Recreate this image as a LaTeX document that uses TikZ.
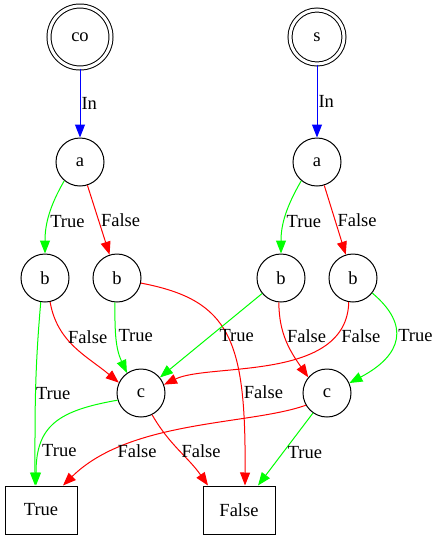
\documentclass[tikz,border=0pt]{standalone}
\usepackage{fontspec}
\setmainfont{Liberation Serif}
\usetikzlibrary{arrows.meta}

\begin{document}
\begin{tikzpicture}[x=1pt, y=1pt,
    font=\fontsize{18.5}{22}\selectfont,
    state/.style={circle, draw, line width=1pt, minimum size=48pt, inner sep=0pt},
    root/.style={state, double, double distance=3pt},
    leaf/.style={rectangle, draw, line width=1pt, minimum width=72pt, minimum height=48pt},
    edge/.style={line width=1pt, -{Triangle[length=13pt, width=10pt]}},
    lbl/.style={inner sep=2pt, text=black},
    yes/.style={edge, green},
    no/.style={edge, red},
    into/.style={edge, blue}]

    \useasboundingbox (0,0) rectangle (439,-539);

    % roots
    \node[root, minimum size=62pt] (co) at (80,-37) {co};
    \node[root, minimum size=54pt] (s) at (317,-37) {s};
    % inner states
    \foreach \name/\x/\y/\txt in {aL/80/162/a, aR/317/162/a,
        bA/45/278/b, bB/117/278/b, bC/281/278/b, bD/353/278/b,
        cL/141/393/c, cR/327/393/c} {
        \node[state] (\name) at (\x,-\y) {\txt};}
    % leaves
    \node[leaf] (T) at (41,-510) {True};
    \node[leaf] (F) at (239,-510) {False};

    % root edges
    \draw[into] (co) -- (aL) node[lbl, pos=0.5, right, inner sep=1pt] {In};
    \draw[into] (s) -- (aR) node[lbl, pos=0.5, right, inner sep=1pt] {In};
    % a -> b
    \draw[yes] (aL.-130) to[out=-120, in=90] node[lbl, pos=0.58, right] {True} (bA.north);
    \draw[no] (aL) -- (bB) node[lbl, pos=0.5, right] {False};
    \draw[yes] (aR.-130) to[out=-120, in=90] node[lbl, pos=0.58, right] {True} (bC.north);
    \draw[no] (aR) -- (bD) node[lbl, pos=0.5, right] {False};
    % b -> c and leaves
    \draw[yes] (bA.-100) to[out=-95, in=90] node[lbl, pos=0.5, right, inner sep=0pt] {True} ([xshift=-6pt]T.north);
    \draw[no] (bA.-78) to[out=-80, in=140] node[lbl, pos=0.36, right] {False} (cL.155);
    \draw[yes] (bB.-95) to[out=-90, in=115] node[lbl, pos=0.45, right] {True} (cL.125);
    \draw[no] (bB.-12) .. controls +(89.5,-17) and +(1,146) .. ([xshift=6pt]F.north) node[lbl, pos=0.74, right] {False};
    \draw[yes] (bC) -- (cL) node[lbl, pos=0.5, right, xshift=6pt] {True};
    \draw[no] (bC.-95) to[out=-90, in=125] node[lbl, pos=0.42, right] {False} (cR.140);
    \draw[no] (bD.-100) .. controls +(-2,-80) and +(45,22) .. (cL.20) node[lbl, pos=0.18, right, xshift=3pt] {False};
    \draw[yes] (bD.-38) .. controls +(38,-32) and +(53,28) .. (cR.24) node[lbl, pos=0.45, right] {True};
    % c -> leaves
    \draw[yes] (cL.197) to[out=190, in=90, looseness=1.3] node[lbl, pos=0.77, right] {True} ([xshift=-5pt]T.north);
    \draw[no] (cL.-63) to[out=-60, in=125] node[lbl, pos=0.5, right] {False} ([xshift=-31pt]F.north);
    \draw[no] (cR.210) .. controls +(-56,-20) and +(67,66) .. ([xshift=22pt]T.north) node[lbl, pos=0.69, below] {False};
    \draw[yes] (cR.-125) -- ([xshift=19pt]F.north) node[lbl, pos=0.54, right, xshift=2pt] {True};

\end{tikzpicture}
\end{document}
